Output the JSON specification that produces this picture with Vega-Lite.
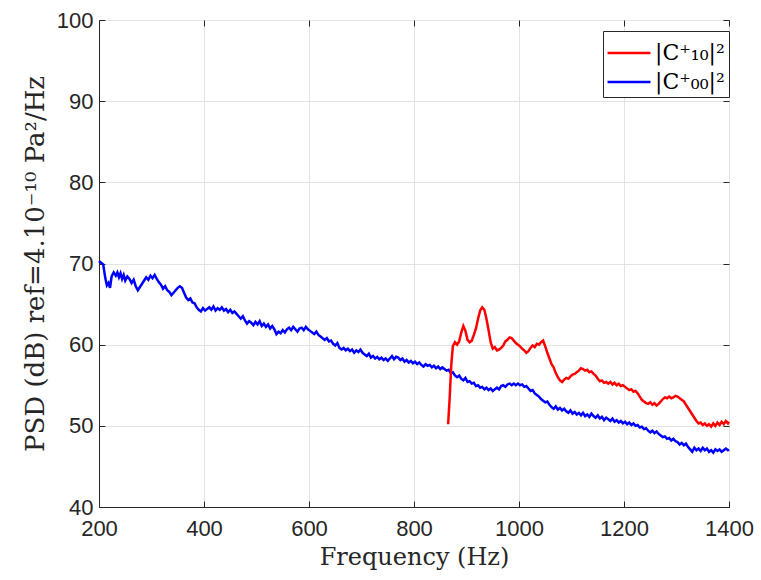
{
  "$schema": "https://vega.github.io/schema/vega-lite/v6.json",
  "width": 630,
  "height": 487,
  "autosize": "none",
  "padding": {"left": 99, "top": 20, "right": 32, "bottom": 73},
  "background": "white",
  "config": {
    "view": {"stroke": "#262626", "strokeWidth": 1},
    "axis": {
      "labelFont": "Liberation Sans",
      "labelFontSize": 22,
      "labelColor": "#262626",
      "labelFlush": false,
      "titleFont": "DejaVu Serif",
      "titleFontSize": 24,
      "titleFontWeight": "normal",
      "titleColor": "#262626",
      "tickSize": -6,
      "tickColor": "#262626",
      "domainColor": "#262626",
      "gridColor": "#e3e3e3",
      "gridWidth": 1
    },
    "legend": {
      "labelFont": "DejaVu Serif",
      "labelFontSize": 22,
      "labelColor": "#000000",
      "symbolType": "M-1.3,0H1.3",
      "symbolSize": 1089,
      "symbolStrokeWidth": 2.5,
      "symbolOffset": 4,
      "strokeColor": "#262626",
      "fillColor": "white",
      "padding": 4,
      "rowPadding": 0,
      "labelOffset": 8
    }
  },
  "data": {
    "values": [
      {"s":"|C⁺₀₀|²","f":200,"v":70.3},{"s":"|C⁺₀₀|²","f":204,"v":70.1},{"s":"|C⁺₀₀|²","f":208,"v":69.9},{"s":"|C⁺₀₀|²","f":212,"v":68.2},{"s":"|C⁺₀₀|²","f":215,"v":67.3},{"s":"|C⁺₀₀|²","f":218,"v":67.6},{"s":"|C⁺₀₀|²","f":221,"v":67.0},{"s":"|C⁺₀₀|²","f":224,"v":68.4},{"s":"|C⁺₀₀|²","f":228,"v":68.9},{"s":"|C⁺₀₀|²","f":232,"v":68.5},{"s":"|C⁺₀₀|²","f":235,"v":68.9},{"s":"|C⁺₀₀|²","f":238,"v":68.3},{"s":"|C⁺₀₀|²","f":241,"v":68.8},{"s":"|C⁺₀₀|²","f":244,"v":68.1},{"s":"|C⁺₀₀|²","f":247,"v":68.6},{"s":"|C⁺₀₀|²","f":250,"v":67.9},{"s":"|C⁺₀₀|²","f":254,"v":68.4},{"s":"|C⁺₀₀|²","f":258,"v":68.1},{"s":"|C⁺₀₀|²","f":262,"v":67.6},{"s":"|C⁺₀₀|²","f":266,"v":68.0},{"s":"|C⁺₀₀|²","f":270,"v":67.2},{"s":"|C⁺₀₀|²","f":274,"v":66.7},{"s":"|C⁺₀₀|²","f":278,"v":67.1},{"s":"|C⁺₀₀|²","f":282,"v":67.5},{"s":"|C⁺₀₀|²","f":286,"v":67.9},{"s":"|C⁺₀₀|²","f":290,"v":68.3},{"s":"|C⁺₀₀|²","f":294,"v":68.0},{"s":"|C⁺₀₀|²","f":298,"v":68.5},{"s":"|C⁺₀₀|²","f":302,"v":68.2},{"s":"|C⁺₀₀|²","f":306,"v":68.6},{"s":"|C⁺₀₀|²","f":310,"v":68.1},{"s":"|C⁺₀₀|²","f":314,"v":67.7},{"s":"|C⁺₀₀|²","f":318,"v":67.4},{"s":"|C⁺₀₀|²","f":322,"v":66.9},{"s":"|C⁺₀₀|²","f":326,"v":67.2},{"s":"|C⁺₀₀|²","f":330,"v":66.7},{"s":"|C⁺₀₀|²","f":334,"v":66.5},{"s":"|C⁺₀₀|²","f":338,"v":66.1},{"s":"|C⁺₀₀|²","f":342,"v":66.4},{"s":"|C⁺₀₀|²","f":346,"v":66.7},{"s":"|C⁺₀₀|²","f":350,"v":67.0},{"s":"|C⁺₀₀|²","f":354,"v":67.2},{"s":"|C⁺₀₀|²","f":358,"v":67.0},{"s":"|C⁺₀₀|²","f":362,"v":66.4},{"s":"|C⁺₀₀|²","f":366,"v":65.8},{"s":"|C⁺₀₀|²","f":370,"v":65.5},{"s":"|C⁺₀₀|²","f":374,"v":65.7},{"s":"|C⁺₀₀|²","f":378,"v":65.2},{"s":"|C⁺₀₀|²","f":382,"v":65.1},{"s":"|C⁺₀₀|²","f":386,"v":64.6},{"s":"|C⁺₀₀|²","f":390,"v":64.3},{"s":"|C⁺₀₀|²","f":394,"v":64.1},{"s":"|C⁺₀₀|²","f":398,"v":64.5},{"s":"|C⁺₀₀|²","f":402,"v":64.2},{"s":"|C⁺₀₀|²","f":406,"v":64.4},{"s":"|C⁺₀₀|²","f":410,"v":64.6},{"s":"|C⁺₀₀|²","f":414,"v":64.3},{"s":"|C⁺₀₀|²","f":418,"v":64.7},{"s":"|C⁺₀₀|²","f":422,"v":64.2},{"s":"|C⁺₀₀|²","f":426,"v":64.5},{"s":"|C⁺₀₀|²","f":430,"v":64.3},{"s":"|C⁺₀₀|²","f":434,"v":64.6},{"s":"|C⁺₀₀|²","f":438,"v":64.2},{"s":"|C⁺₀₀|²","f":442,"v":64.4},{"s":"|C⁺₀₀|²","f":446,"v":64.0},{"s":"|C⁺₀₀|²","f":450,"v":64.3},{"s":"|C⁺₀₀|²","f":454,"v":63.9},{"s":"|C⁺₀₀|²","f":458,"v":64.1},{"s":"|C⁺₀₀|²","f":462,"v":63.8},{"s":"|C⁺₀₀|²","f":466,"v":63.5},{"s":"|C⁺₀₀|²","f":470,"v":63.2},{"s":"|C⁺₀₀|²","f":474,"v":63.5},{"s":"|C⁺₀₀|²","f":478,"v":63.0},{"s":"|C⁺₀₀|²","f":482,"v":62.6},{"s":"|C⁺₀₀|²","f":486,"v":62.9},{"s":"|C⁺₀₀|²","f":490,"v":62.7},{"s":"|C⁺₀₀|²","f":494,"v":62.4},{"s":"|C⁺₀₀|²","f":498,"v":62.8},{"s":"|C⁺₀₀|²","f":502,"v":62.5},{"s":"|C⁺₀₀|²","f":506,"v":62.9},{"s":"|C⁺₀₀|²","f":510,"v":62.3},{"s":"|C⁺₀₀|²","f":514,"v":62.6},{"s":"|C⁺₀₀|²","f":518,"v":62.2},{"s":"|C⁺₀₀|²","f":522,"v":62.5},{"s":"|C⁺₀₀|²","f":526,"v":62.0},{"s":"|C⁺₀₀|²","f":530,"v":62.3},{"s":"|C⁺₀₀|²","f":534,"v":61.9},{"s":"|C⁺₀₀|²","f":538,"v":61.3},{"s":"|C⁺₀₀|²","f":542,"v":61.6},{"s":"|C⁺₀₀|²","f":546,"v":61.4},{"s":"|C⁺₀₀|²","f":550,"v":61.8},{"s":"|C⁺₀₀|²","f":554,"v":61.5},{"s":"|C⁺₀₀|²","f":558,"v":61.9},{"s":"|C⁺₀₀|²","f":562,"v":62.1},{"s":"|C⁺₀₀|²","f":566,"v":61.8},{"s":"|C⁺₀₀|²","f":570,"v":62.2},{"s":"|C⁺₀₀|²","f":574,"v":61.9},{"s":"|C⁺₀₀|²","f":578,"v":61.6},{"s":"|C⁺₀₀|²","f":582,"v":62.0},{"s":"|C⁺₀₀|²","f":586,"v":62.1},{"s":"|C⁺₀₀|²","f":590,"v":61.8},{"s":"|C⁺₀₀|²","f":594,"v":62.2},{"s":"|C⁺₀₀|²","f":598,"v":61.9},{"s":"|C⁺₀₀|²","f":602,"v":61.7},{"s":"|C⁺₀₀|²","f":606,"v":61.5},{"s":"|C⁺₀₀|²","f":610,"v":61.3},{"s":"|C⁺₀₀|²","f":614,"v":61.6},{"s":"|C⁺₀₀|²","f":618,"v":61.2},{"s":"|C⁺₀₀|²","f":622,"v":61.0},{"s":"|C⁺₀₀|²","f":626,"v":60.8},{"s":"|C⁺₀₀|²","f":630,"v":60.6},{"s":"|C⁺₀₀|²","f":634,"v":60.8},{"s":"|C⁺₀₀|²","f":638,"v":60.4},{"s":"|C⁺₀₀|²","f":642,"v":60.5},{"s":"|C⁺₀₀|²","f":646,"v":60.1},{"s":"|C⁺₀₀|²","f":650,"v":59.9},{"s":"|C⁺₀₀|²","f":654,"v":60.2},{"s":"|C⁺₀₀|²","f":658,"v":59.6},{"s":"|C⁺₀₀|²","f":662,"v":59.4},{"s":"|C⁺₀₀|²","f":666,"v":59.6},{"s":"|C⁺₀₀|²","f":670,"v":59.3},{"s":"|C⁺₀₀|²","f":674,"v":59.5},{"s":"|C⁺₀₀|²","f":678,"v":59.2},{"s":"|C⁺₀₀|²","f":682,"v":59.4},{"s":"|C⁺₀₀|²","f":686,"v":59.0},{"s":"|C⁺₀₀|²","f":690,"v":59.3},{"s":"|C⁺₀₀|²","f":694,"v":59.1},{"s":"|C⁺₀₀|²","f":698,"v":59.4},{"s":"|C⁺₀₀|²","f":702,"v":59.0},{"s":"|C⁺₀₀|²","f":706,"v":58.8},{"s":"|C⁺₀₀|²","f":710,"v":58.6},{"s":"|C⁺₀₀|²","f":714,"v":58.9},{"s":"|C⁺₀₀|²","f":718,"v":58.4},{"s":"|C⁺₀₀|²","f":722,"v":58.6},{"s":"|C⁺₀₀|²","f":726,"v":58.3},{"s":"|C⁺₀₀|²","f":730,"v":58.5},{"s":"|C⁺₀₀|²","f":734,"v":58.2},{"s":"|C⁺₀₀|²","f":738,"v":58.4},{"s":"|C⁺₀₀|²","f":742,"v":58.1},{"s":"|C⁺₀₀|²","f":746,"v":58.3},{"s":"|C⁺₀₀|²","f":750,"v":58.0},{"s":"|C⁺₀₀|²","f":754,"v":58.3},{"s":"|C⁺₀₀|²","f":758,"v":58.6},{"s":"|C⁺₀₀|²","f":762,"v":58.2},{"s":"|C⁺₀₀|²","f":766,"v":58.5},{"s":"|C⁺₀₀|²","f":770,"v":58.4},{"s":"|C⁺₀₀|²","f":774,"v":58.1},{"s":"|C⁺₀₀|²","f":778,"v":58.3},{"s":"|C⁺₀₀|²","f":782,"v":57.9},{"s":"|C⁺₀₀|²","f":786,"v":58.1},{"s":"|C⁺₀₀|²","f":790,"v":57.8},{"s":"|C⁺₀₀|²","f":794,"v":58.0},{"s":"|C⁺₀₀|²","f":798,"v":57.7},{"s":"|C⁺₀₀|²","f":802,"v":57.9},{"s":"|C⁺₀₀|²","f":806,"v":57.6},{"s":"|C⁺₀₀|²","f":810,"v":57.8},{"s":"|C⁺₀₀|²","f":814,"v":57.5},{"s":"|C⁺₀₀|²","f":818,"v":57.3},{"s":"|C⁺₀₀|²","f":822,"v":57.6},{"s":"|C⁺₀₀|²","f":826,"v":57.4},{"s":"|C⁺₀₀|²","f":830,"v":57.5},{"s":"|C⁺₀₀|²","f":834,"v":57.2},{"s":"|C⁺₀₀|²","f":838,"v":57.4},{"s":"|C⁺₀₀|²","f":842,"v":57.1},{"s":"|C⁺₀₀|²","f":846,"v":57.3},{"s":"|C⁺₀₀|²","f":850,"v":57.0},{"s":"|C⁺₀₀|²","f":854,"v":57.2},{"s":"|C⁺₀₀|²","f":858,"v":57.0},{"s":"|C⁺₀₀|²","f":862,"v":56.8},{"s":"|C⁺₀₀|²","f":866,"v":56.9},{"s":"|C⁺₀₀|²","f":870,"v":56.5},{"s":"|C⁺₀₀|²","f":874,"v":56.6},{"s":"|C⁺₀₀|²","f":878,"v":56.2},{"s":"|C⁺₀₀|²","f":882,"v":56.0},{"s":"|C⁺₀₀|²","f":886,"v":56.2},{"s":"|C⁺₀₀|²","f":890,"v":55.8},{"s":"|C⁺₀₀|²","f":894,"v":55.6},{"s":"|C⁺₀₀|²","f":898,"v":55.9},{"s":"|C⁺₀₀|²","f":902,"v":55.4},{"s":"|C⁺₀₀|²","f":906,"v":55.5},{"s":"|C⁺₀₀|²","f":910,"v":55.2},{"s":"|C⁺₀₀|²","f":914,"v":55.3},{"s":"|C⁺₀₀|²","f":918,"v":54.9},{"s":"|C⁺₀₀|²","f":922,"v":55.0},{"s":"|C⁺₀₀|²","f":926,"v":54.7},{"s":"|C⁺₀₀|²","f":930,"v":54.8},{"s":"|C⁺₀₀|²","f":934,"v":54.5},{"s":"|C⁺₀₀|²","f":938,"v":54.7},{"s":"|C⁺₀₀|²","f":942,"v":54.4},{"s":"|C⁺₀₀|²","f":946,"v":54.6},{"s":"|C⁺₀₀|²","f":950,"v":54.3},{"s":"|C⁺₀₀|²","f":954,"v":54.5},{"s":"|C⁺₀₀|²","f":958,"v":54.7},{"s":"|C⁺₀₀|²","f":962,"v":54.5},{"s":"|C⁺₀₀|²","f":966,"v":54.9},{"s":"|C⁺₀₀|²","f":970,"v":55.0},{"s":"|C⁺₀₀|²","f":974,"v":54.8},{"s":"|C⁺₀₀|²","f":978,"v":55.1},{"s":"|C⁺₀₀|²","f":982,"v":55.2},{"s":"|C⁺₀₀|²","f":986,"v":55.0},{"s":"|C⁺₀₀|²","f":990,"v":55.2},{"s":"|C⁺₀₀|²","f":994,"v":55.0},{"s":"|C⁺₀₀|²","f":998,"v":55.2},{"s":"|C⁺₀₀|²","f":1002,"v":55.0},{"s":"|C⁺₀₀|²","f":1006,"v":55.1},{"s":"|C⁺₀₀|²","f":1010,"v":54.8},{"s":"|C⁺₀₀|²","f":1014,"v":54.9},{"s":"|C⁺₀₀|²","f":1018,"v":54.6},{"s":"|C⁺₀₀|²","f":1022,"v":54.3},{"s":"|C⁺₀₀|²","f":1026,"v":54.4},{"s":"|C⁺₀₀|²","f":1030,"v":54.0},{"s":"|C⁺₀₀|²","f":1034,"v":53.8},{"s":"|C⁺₀₀|²","f":1038,"v":53.6},{"s":"|C⁺₀₀|²","f":1042,"v":53.3},{"s":"|C⁺₀₀|²","f":1046,"v":53.1},{"s":"|C⁺₀₀|²","f":1050,"v":52.9},{"s":"|C⁺₀₀|²","f":1054,"v":53.0},{"s":"|C⁺₀₀|²","f":1058,"v":52.6},{"s":"|C⁺₀₀|²","f":1062,"v":52.3},{"s":"|C⁺₀₀|²","f":1066,"v":52.1},{"s":"|C⁺₀₀|²","f":1070,"v":52.4},{"s":"|C⁺₀₀|²","f":1074,"v":52.0},{"s":"|C⁺₀₀|²","f":1078,"v":52.2},{"s":"|C⁺₀₀|²","f":1082,"v":51.9},{"s":"|C⁺₀₀|²","f":1086,"v":52.1},{"s":"|C⁺₀₀|²","f":1090,"v":51.8},{"s":"|C⁺₀₀|²","f":1094,"v":51.6},{"s":"|C⁺₀₀|²","f":1098,"v":51.9},{"s":"|C⁺₀₀|²","f":1102,"v":51.5},{"s":"|C⁺₀₀|²","f":1106,"v":51.7},{"s":"|C⁺₀₀|²","f":1110,"v":51.4},{"s":"|C⁺₀₀|²","f":1114,"v":51.6},{"s":"|C⁺₀₀|²","f":1118,"v":51.3},{"s":"|C⁺₀₀|²","f":1122,"v":51.6},{"s":"|C⁺₀₀|²","f":1126,"v":51.2},{"s":"|C⁺₀₀|²","f":1130,"v":51.4},{"s":"|C⁺₀₀|²","f":1134,"v":51.1},{"s":"|C⁺₀₀|²","f":1138,"v":51.5},{"s":"|C⁺₀₀|²","f":1142,"v":51.2},{"s":"|C⁺₀₀|²","f":1146,"v":51.0},{"s":"|C⁺₀₀|²","f":1150,"v":51.3},{"s":"|C⁺₀₀|²","f":1154,"v":50.9},{"s":"|C⁺₀₀|²","f":1158,"v":51.1},{"s":"|C⁺₀₀|²","f":1162,"v":50.7},{"s":"|C⁺₀₀|²","f":1166,"v":51.0},{"s":"|C⁺₀₀|²","f":1170,"v":50.8},{"s":"|C⁺₀₀|²","f":1174,"v":50.6},{"s":"|C⁺₀₀|²","f":1178,"v":50.9},{"s":"|C⁺₀₀|²","f":1182,"v":50.5},{"s":"|C⁺₀₀|²","f":1186,"v":50.7},{"s":"|C⁺₀₀|²","f":1190,"v":50.4},{"s":"|C⁺₀₀|²","f":1194,"v":50.6},{"s":"|C⁺₀₀|²","f":1198,"v":50.3},{"s":"|C⁺₀₀|²","f":1202,"v":50.5},{"s":"|C⁺₀₀|²","f":1206,"v":50.2},{"s":"|C⁺₀₀|²","f":1210,"v":50.4},{"s":"|C⁺₀₀|²","f":1214,"v":50.1},{"s":"|C⁺₀₀|²","f":1218,"v":50.3},{"s":"|C⁺₀₀|²","f":1222,"v":50.0},{"s":"|C⁺₀₀|²","f":1226,"v":50.1},{"s":"|C⁺₀₀|²","f":1230,"v":49.8},{"s":"|C⁺₀₀|²","f":1234,"v":49.9},{"s":"|C⁺₀₀|²","f":1238,"v":49.6},{"s":"|C⁺₀₀|²","f":1242,"v":49.7},{"s":"|C⁺₀₀|²","f":1246,"v":49.4},{"s":"|C⁺₀₀|²","f":1250,"v":49.2},{"s":"|C⁺₀₀|²","f":1254,"v":49.4},{"s":"|C⁺₀₀|²","f":1258,"v":49.1},{"s":"|C⁺₀₀|²","f":1262,"v":49.3},{"s":"|C⁺₀₀|²","f":1266,"v":49.0},{"s":"|C⁺₀₀|²","f":1270,"v":48.8},{"s":"|C⁺₀₀|²","f":1274,"v":48.6},{"s":"|C⁺₀₀|²","f":1278,"v":48.7},{"s":"|C⁺₀₀|²","f":1282,"v":48.4},{"s":"|C⁺₀₀|²","f":1286,"v":48.5},{"s":"|C⁺₀₀|²","f":1290,"v":48.2},{"s":"|C⁺₀₀|²","f":1294,"v":48.4},{"s":"|C⁺₀₀|²","f":1298,"v":48.1},{"s":"|C⁺₀₀|²","f":1302,"v":48.0},{"s":"|C⁺₀₀|²","f":1306,"v":47.7},{"s":"|C⁺₀₀|²","f":1310,"v":47.9},{"s":"|C⁺₀₀|²","f":1314,"v":47.6},{"s":"|C⁺₀₀|²","f":1318,"v":47.8},{"s":"|C⁺₀₀|²","f":1322,"v":47.4},{"s":"|C⁺₀₀|²","f":1326,"v":47.1},{"s":"|C⁺₀₀|²","f":1330,"v":46.8},{"s":"|C⁺₀₀|²","f":1334,"v":47.3},{"s":"|C⁺₀₀|²","f":1338,"v":47.0},{"s":"|C⁺₀₀|²","f":1342,"v":47.2},{"s":"|C⁺₀₀|²","f":1346,"v":46.9},{"s":"|C⁺₀₀|²","f":1350,"v":47.3},{"s":"|C⁺₀₀|²","f":1354,"v":47.0},{"s":"|C⁺₀₀|²","f":1358,"v":47.2},{"s":"|C⁺₀₀|²","f":1362,"v":46.8},{"s":"|C⁺₀₀|²","f":1366,"v":47.0},{"s":"|C⁺₀₀|²","f":1370,"v":46.7},{"s":"|C⁺₀₀|²","f":1374,"v":47.1},{"s":"|C⁺₀₀|²","f":1378,"v":46.9},{"s":"|C⁺₀₀|²","f":1382,"v":47.1},{"s":"|C⁺₀₀|²","f":1386,"v":46.8},{"s":"|C⁺₀₀|²","f":1390,"v":47.0},{"s":"|C⁺₀₀|²","f":1394,"v":47.2},{"s":"|C⁺₀₀|²","f":1398,"v":47.0},{"s":"|C⁺₀₀|²","f":1400,"v":47.1},
      {"s":"|C⁺₁₀|²","f":865,"v":50.2},{"s":"|C⁺₁₀|²","f":868,"v":53.5},{"s":"|C⁺₁₀|²","f":871,"v":57.5},{"s":"|C⁺₁₀|²","f":874,"v":59.8},{"s":"|C⁺₁₀|²","f":878,"v":60.3},{"s":"|C⁺₁₀|²","f":882,"v":60.0},{"s":"|C⁺₁₀|²","f":886,"v":60.4},{"s":"|C⁺₁₀|²","f":890,"v":61.5},{"s":"|C⁺₁₀|²","f":894,"v":62.3},{"s":"|C⁺₁₀|²","f":898,"v":61.7},{"s":"|C⁺₁₀|²","f":902,"v":60.6},{"s":"|C⁺₁₀|²","f":906,"v":60.3},{"s":"|C⁺₁₀|²","f":910,"v":60.5},{"s":"|C⁺₁₀|²","f":914,"v":61.2},{"s":"|C⁺₁₀|²","f":918,"v":62.0},{"s":"|C⁺₁₀|²","f":922,"v":63.2},{"s":"|C⁺₁₀|²","f":926,"v":64.2},{"s":"|C⁺₁₀|²","f":930,"v":64.6},{"s":"|C⁺₁₀|²","f":934,"v":64.3},{"s":"|C⁺₁₀|²","f":938,"v":63.2},{"s":"|C⁺₁₀|²","f":942,"v":61.8},{"s":"|C⁺₁₀|²","f":946,"v":60.3},{"s":"|C⁺₁₀|²","f":950,"v":59.5},{"s":"|C⁺₁₀|²","f":954,"v":59.7},{"s":"|C⁺₁₀|²","f":958,"v":59.3},{"s":"|C⁺₁₀|²","f":962,"v":59.4},{"s":"|C⁺₁₀|²","f":966,"v":59.6},{"s":"|C⁺₁₀|²","f":970,"v":59.9},{"s":"|C⁺₁₀|²","f":974,"v":60.4},{"s":"|C⁺₁₀|²","f":978,"v":60.6},{"s":"|C⁺₁₀|²","f":982,"v":60.9},{"s":"|C⁺₁₀|²","f":986,"v":60.8},{"s":"|C⁺₁₀|²","f":990,"v":60.5},{"s":"|C⁺₁₀|²","f":994,"v":60.2},{"s":"|C⁺₁₀|²","f":998,"v":60.0},{"s":"|C⁺₁₀|²","f":1002,"v":59.8},{"s":"|C⁺₁₀|²","f":1006,"v":59.5},{"s":"|C⁺₁₀|²","f":1010,"v":59.3},{"s":"|C⁺₁₀|²","f":1014,"v":59.0},{"s":"|C⁺₁₀|²","f":1018,"v":59.2},{"s":"|C⁺₁₀|²","f":1022,"v":59.6},{"s":"|C⁺₁₀|²","f":1026,"v":59.9},{"s":"|C⁺₁₀|²","f":1030,"v":59.7},{"s":"|C⁺₁₀|²","f":1034,"v":60.1},{"s":"|C⁺₁₀|²","f":1038,"v":60.0},{"s":"|C⁺₁₀|²","f":1042,"v":60.3},{"s":"|C⁺₁₀|²","f":1046,"v":60.5},{"s":"|C⁺₁₀|²","f":1050,"v":59.8},{"s":"|C⁺₁₀|²","f":1054,"v":59.0},{"s":"|C⁺₁₀|²","f":1058,"v":58.3},{"s":"|C⁺₁₀|²","f":1062,"v":57.6},{"s":"|C⁺₁₀|²","f":1066,"v":57.2},{"s":"|C⁺₁₀|²","f":1070,"v":56.5},{"s":"|C⁺₁₀|²","f":1074,"v":56.0},{"s":"|C⁺₁₀|²","f":1078,"v":55.6},{"s":"|C⁺₁₀|²","f":1082,"v":55.4},{"s":"|C⁺₁₀|²","f":1086,"v":55.7},{"s":"|C⁺₁₀|²","f":1090,"v":55.9},{"s":"|C⁺₁₀|²","f":1094,"v":55.8},{"s":"|C⁺₁₀|²","f":1098,"v":56.1},{"s":"|C⁺₁₀|²","f":1102,"v":56.3},{"s":"|C⁺₁₀|²","f":1106,"v":56.4},{"s":"|C⁺₁₀|²","f":1110,"v":56.6},{"s":"|C⁺₁₀|²","f":1114,"v":56.8},{"s":"|C⁺₁₀|²","f":1118,"v":57.1},{"s":"|C⁺₁₀|²","f":1122,"v":57.0},{"s":"|C⁺₁₀|²","f":1126,"v":56.8},{"s":"|C⁺₁₀|²","f":1130,"v":56.9},{"s":"|C⁺₁₀|²","f":1134,"v":56.6},{"s":"|C⁺₁₀|²","f":1138,"v":56.7},{"s":"|C⁺₁₀|²","f":1142,"v":56.4},{"s":"|C⁺₁₀|²","f":1146,"v":56.2},{"s":"|C⁺₁₀|²","f":1150,"v":55.8},{"s":"|C⁺₁₀|²","f":1154,"v":55.5},{"s":"|C⁺₁₀|²","f":1158,"v":55.6},{"s":"|C⁺₁₀|²","f":1162,"v":55.3},{"s":"|C⁺₁₀|²","f":1166,"v":55.4},{"s":"|C⁺₁₀|²","f":1170,"v":55.2},{"s":"|C⁺₁₀|²","f":1174,"v":55.4},{"s":"|C⁺₁₀|²","f":1178,"v":55.1},{"s":"|C⁺₁₀|²","f":1182,"v":55.3},{"s":"|C⁺₁₀|²","f":1186,"v":55.0},{"s":"|C⁺₁₀|²","f":1190,"v":55.2},{"s":"|C⁺₁₀|²","f":1194,"v":54.9},{"s":"|C⁺₁₀|²","f":1198,"v":55.0},{"s":"|C⁺₁₀|²","f":1202,"v":54.8},{"s":"|C⁺₁₀|²","f":1206,"v":54.6},{"s":"|C⁺₁₀|²","f":1210,"v":54.4},{"s":"|C⁺₁₀|²","f":1214,"v":54.5},{"s":"|C⁺₁₀|²","f":1218,"v":54.2},{"s":"|C⁺₁₀|²","f":1222,"v":54.3},{"s":"|C⁺₁₀|²","f":1226,"v":54.0},{"s":"|C⁺₁₀|²","f":1230,"v":53.6},{"s":"|C⁺₁₀|²","f":1234,"v":53.2},{"s":"|C⁺₁₀|²","f":1238,"v":53.0},{"s":"|C⁺₁₀|²","f":1242,"v":52.8},{"s":"|C⁺₁₀|²","f":1246,"v":52.7},{"s":"|C⁺₁₀|²","f":1250,"v":52.9},{"s":"|C⁺₁₀|²","f":1254,"v":52.6},{"s":"|C⁺₁₀|²","f":1258,"v":52.8},{"s":"|C⁺₁₀|²","f":1262,"v":52.5},{"s":"|C⁺₁₀|²","f":1266,"v":52.7},{"s":"|C⁺₁₀|²","f":1270,"v":53.0},{"s":"|C⁺₁₀|²","f":1274,"v":53.3},{"s":"|C⁺₁₀|²","f":1278,"v":53.5},{"s":"|C⁺₁₀|²","f":1282,"v":53.4},{"s":"|C⁺₁₀|²","f":1286,"v":53.6},{"s":"|C⁺₁₀|²","f":1290,"v":53.4},{"s":"|C⁺₁₀|²","f":1294,"v":53.5},{"s":"|C⁺₁₀|²","f":1298,"v":53.7},{"s":"|C⁺₁₀|²","f":1302,"v":53.6},{"s":"|C⁺₁₀|²","f":1306,"v":53.4},{"s":"|C⁺₁₀|²","f":1310,"v":53.2},{"s":"|C⁺₁₀|²","f":1314,"v":53.0},{"s":"|C⁺₁₀|²","f":1318,"v":52.6},{"s":"|C⁺₁₀|²","f":1322,"v":52.2},{"s":"|C⁺₁₀|²","f":1326,"v":51.8},{"s":"|C⁺₁₀|²","f":1330,"v":51.4},{"s":"|C⁺₁₀|²","f":1334,"v":51.0},{"s":"|C⁺₁₀|²","f":1338,"v":50.6},{"s":"|C⁺₁₀|²","f":1342,"v":50.3},{"s":"|C⁺₁₀|²","f":1346,"v":50.4},{"s":"|C⁺₁₀|²","f":1350,"v":50.1},{"s":"|C⁺₁₀|²","f":1354,"v":50.3},{"s":"|C⁺₁₀|²","f":1358,"v":50.0},{"s":"|C⁺₁₀|²","f":1362,"v":50.2},{"s":"|C⁺₁₀|²","f":1366,"v":49.9},{"s":"|C⁺₁₀|²","f":1370,"v":50.3},{"s":"|C⁺₁₀|²","f":1374,"v":50.0},{"s":"|C⁺₁₀|²","f":1378,"v":50.4},{"s":"|C⁺₁₀|²","f":1382,"v":50.1},{"s":"|C⁺₁₀|²","f":1386,"v":50.5},{"s":"|C⁺₁₀|²","f":1390,"v":50.2},{"s":"|C⁺₁₀|²","f":1394,"v":50.6},{"s":"|C⁺₁₀|²","f":1398,"v":50.3},{"s":"|C⁺₁₀|²","f":1400,"v":50.5}
    ]
  },
  "layer": [
    {
      "transform": [{"filter": "datum.s === '|C⁺₀₀|²'"}],
      "mark": {"type": "line", "strokeWidth": 2.5},
      "encoding": {
        "x": {
          "field": "f", "type": "quantitative",
          "scale": {"domain": [200, 1400], "nice": false},
          "axis": {"values": [200, 400, 600, 800, 1000, 1200, 1400], "format": "d", "title": "Frequency (Hz)", "titlePadding": 6, "labelPadding": 17}
        },
        "y": {
          "field": "v", "type": "quantitative",
          "scale": {"domain": [40, 100], "nice": false, "zero": false},
          "axis": {"values": [40, 50, 60, 70, 80, 90, 100], "format": "d", "title": "PSD (dB) ref=4.10⁻¹⁰ Pa²/Hz", "titleFontSize": 26, "titlePadding": 8, "labelPadding": 12}
        },
        "color": {
          "field": "s", "type": "nominal",
          "scale": {"domain": ["|C⁺₁₀|²", "|C⁺₀₀|²"], "range": ["#ff0000", "#0000ff"]},
          "legend": {"title": null, "orient": "none", "legendX": 504, "legendY": 11}
        }
      }
    },
    {
      "transform": [{"filter": "datum.s === '|C⁺₁₀|²'"}],
      "mark": {"type": "line", "strokeWidth": 2.5},
      "encoding": {
        "x": {
          "field": "f", "type": "quantitative",
          "axis": {"orient": "top", "values": [200, 400, 600, 800, 1000, 1200, 1400], "labels": false, "grid": false, "domain": false, "title": null}
        },
        "y": {
          "field": "v", "type": "quantitative",
          "axis": {"orient": "right", "values": [40, 50, 60, 70, 80, 90, 100], "labels": false, "grid": false, "domain": false, "title": null}
        },
        "color": {"field": "s", "type": "nominal"}
      }
    }
  ],
  "resolve": {"axis": {"x": "independent", "y": "independent"}}
}
